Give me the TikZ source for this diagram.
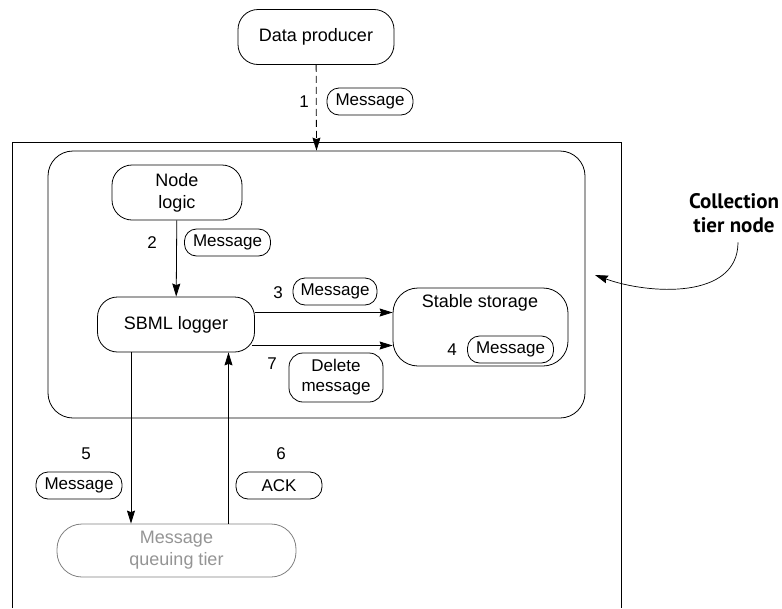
\documentclass[tikz,border=0pt]{standalone}
\usepackage{fontspec}
\setmainfont{Liberation Sans}
\newfontfamily\calloutfont{PT Sans}
\usetikzlibrary{arrows.meta,positioning}

\begin{document}
\begin{tikzpicture}[
			x=1pt, y=-1pt,
			line width=0.8pt,
			>={Stealth[length=13pt, width=8pt, inset=1.5pt]},
			StepBox/.style={draw, rounded corners=20pt, minimum height=55pt,
				align=center, inner sep=2pt, font=\fontsize{18}{22}\selectfont},
			MsgTag/.style={draw, rounded corners=12pt, minimum width=86pt,
				minimum height=27pt, inner sep=2pt, align=center,
				font=\fontsize{17}{20}\selectfont},
			StepNum/.style={font=\fontsize{17}{20}\selectfont},
			]
			\useasboundingbox (0,0) rectangle (782,608);
			% outer box, open at the bottom
			\draw[line width=1pt] (12,608) -- (12,142) -- (621,142) -- (621,608);
			\node [draw, rounded corners=25pt, minimum width=537pt,
				minimum height=267pt] (collnode) at (316.5,284.5) {};
			\node [StepBox, minimum width=156pt] (producer) at (316,37) {Data producer};
			\node [StepBox, minimum width=130pt] (logic) at (177,192.5) {Node\\logic};
			\node [StepBox, minimum width=157pt] (sbml) at (176,324.5) {SBML logger};
			\node [StepBox, minimum width=175pt, minimum height=78pt,
				rounded corners=25pt] (store) at (480.5,327) {};
			\node [font=\fontsize{18}{22}\selectfont] (storetitle) at (480,303) {Stable storage};
			\node [StepBox, minimum width=239pt, minimum height=53pt, rounded corners=25pt,
				draw=black!50, text=black!42] (queue) at (176.5,550.5) {Message\\queuing tier};
			% message tags and step numbers
			\node [MsgTag] (tag1) at (370,101.5) {Message};
			\node [StepNum] (n1) at (304,102) {1};
			\node [MsgTag] (tag2) at (227.5,242.5) {Message};
			\node [StepNum] (n2) at (152,243) {2};
			\node [MsgTag, minimum width=84pt] (tag3) at (335,291.5) {Message};
			\node [StepNum] (n3) at (278,293) {3};
			\node [MsgTag] (tag4) at (510.5,349.5) {Message};
			\node [StepNum] (n4) at (452,350) {4};
			\node [MsgTag] (tag5) at (79,485.5) {Message};
			\node [StepNum] (n5) at (86,454) {5};
			\node [MsgTag] (tag6) at (279,485.5) {ACK};
			\node [StepNum] (n6) at (281,454) {6};
			\node [MsgTag, minimum width=94pt, minimum height=49pt,
				rounded corners=14pt] (tag7) at (336,377.5) {Delete\\message};
			\node [StepNum] (n7) at (272,364) {7};
			% callout
			\node [font=\calloutfont\bfseries\fontsize{21}{24}\selectfont, align=center]
				(callout) at (734,213) {Collection\\tier node};
			\coordinate (pointer) at (595,275);
			% connectors
			\draw [->, dash pattern=on 7pt off 4pt] (producer) -- (collnode.north);
			\draw [->] (logic) -- (sbml);
			\draw [->] ([yshift=12pt]sbml.east) -- ([yshift=12pt]sbml.east -| store.west);
			\draw [->] ([xshift=-3pt, yshift=-21pt]sbml.east)
				-- ([yshift=-21pt]sbml.east -| store.west);
			\draw [->] ([xshift=-45pt]sbml.south) -- ([xshift=-45pt]sbml.south |- queue.north);
			\draw [->] ([xshift=52pt]queue.north) -- ([xshift=52pt]queue.north |- sbml.south);
			\draw [->, line width=0.7pt] ([xshift=4pt, yshift=-6pt]callout.south)
				to [out=-90, in=-20] (pointer);
		\end{tikzpicture}
\end{document}
